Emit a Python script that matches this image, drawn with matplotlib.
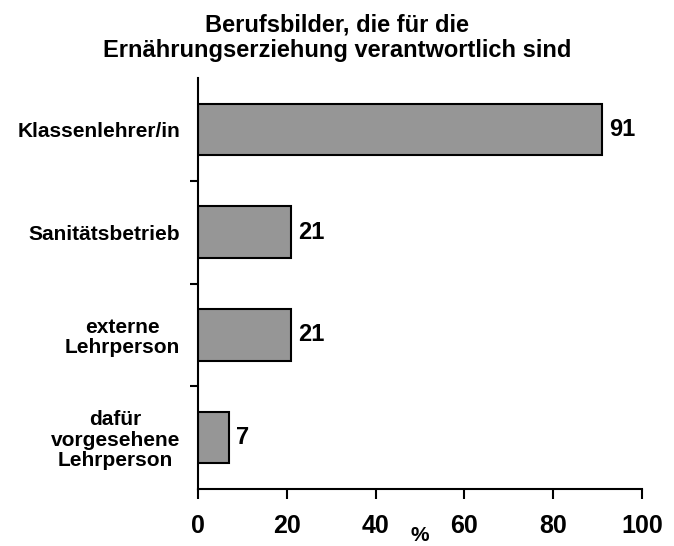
import numpy as np
import matplotlib.pyplot as plt

plt.rcParams['font.family'] = ['Liberation Sans', 'DejaVu Sans']
plt.rcParams['font.weight'] = 'bold'

# Daten
kategorien = ['Klassenlehrer/in', 'Sanitätsbetrieb', 'externe\nLehrperson',
              'dafür\nvorgesehene\nLehrperson']
werte = [91, 21, 21, 7]
xticks = [0, 20, 40, 60, 80, 100]

fig = plt.figure(figsize=(6.74, 5.46), dpi=100)
ax = fig.add_axes([0.2938, 0.1044, 0.6587, 0.7526])

y = np.arange(len(kategorien))[::-1]
ax.barh(y, werte, height=0.5, color='#969696', edgecolor='black', linewidth=1.5)

for yi, w in zip(y, werte):
    ax.text(w + 1.6, yi, str(w), va='center', ha='left', fontsize=17, fontweight='bold')

ax.set_xlim(0, 100)
ax.set_ylim(-0.5, 3.5)
ax.set_xticks(xticks)
ax.set_xticklabels([str(t) for t in xticks], fontsize=18, fontweight='bold')

ax.set_yticks(y)
ax.set_yticklabels(kategorien, fontsize=15, fontweight='bold', multialignment='center',
                   linespacing=1.1)
ax.tick_params(axis='y', which='major', length=0, pad=13)
ax.set_yticks([0.5, 1.5, 2.5], minor=True)
ax.tick_params(axis='y', which='minor', length=6, width=1.5, direction='out')
ax.tick_params(axis='x', length=7, width=1.5, direction='out', pad=11)

for s in ['top', 'right']:
    ax.spines[s].set_visible(False)
for s in ['left', 'bottom']:
    ax.spines[s].set_linewidth(1.5)

ax.set_xlabel('%', fontsize=15, fontweight='bold')
ax.xaxis.set_label_coords(0.5, -0.09)

fig.text(0.5, 0.976, 'Berufsbilder, die für die\nErnährungserziehung verantwortlich sind',
         ha='center', va='top', fontsize=17, fontweight='bold', linespacing=1.15)

fig.savefig('out.png', dpi=100)
